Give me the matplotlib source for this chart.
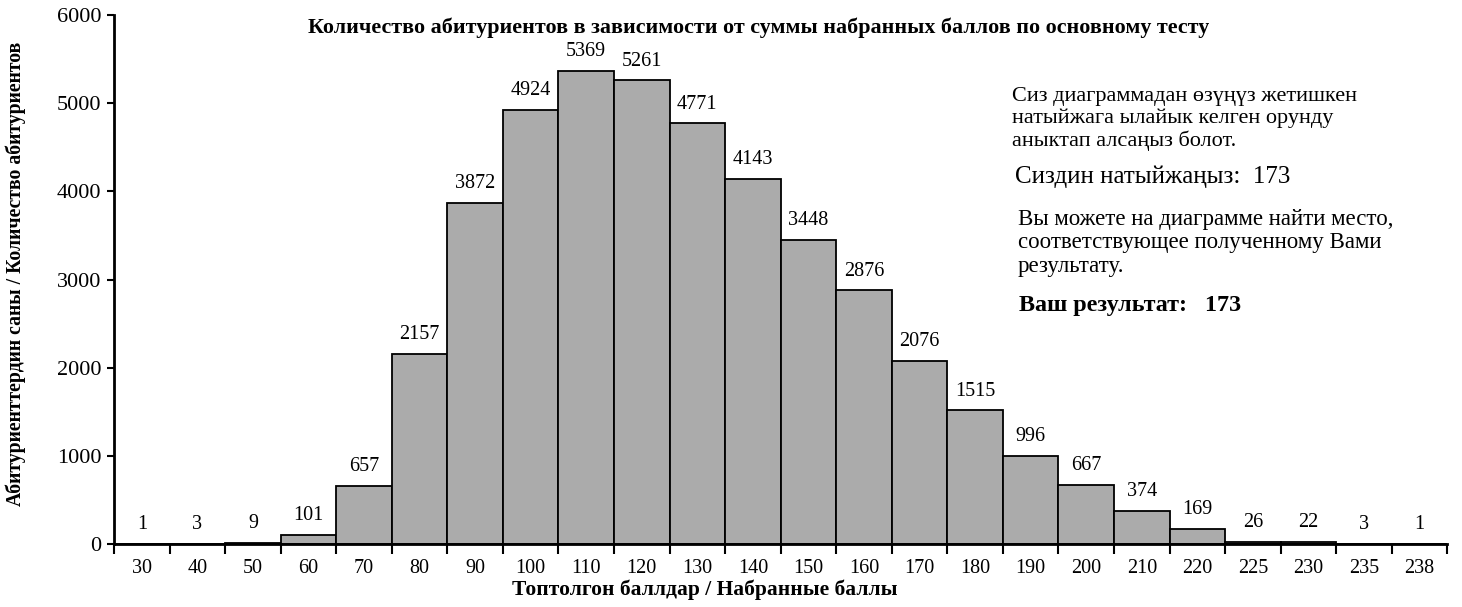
"""
Applicants by total score on the main test (bar chart recreation).
"""

import matplotlib
matplotlib.use("Agg")
import matplotlib.pyplot as plt
import numpy as np

score_labels = ["30", "40", "50", "60", "70", "80", "90", "100", "110", "120",
                "130", "140", "150", "160", "170", "180", "190", "200", "210",
                "220", "225", "230", "235", "238"]
applicants = [1, 3, 9, 101, 657, 2157, 3872, 4924, 5369, 5261, 4771, 4143,
              3448, 2876, 2076, 1515, 996, 667, 374, 169, 26, 22, 3, 1]
your_score = 173

plt.rcParams["font.family"] = ["Liberation Serif", "DejaVu Serif"]

fig = plt.figure(figsize=(14.62, 6.07), dpi=100)
ax = fig.add_axes([0.078, 0.104, 0.912, 0.871])

pos = np.arange(len(applicants))
bars = ax.bar(pos, applicants, width=1.0, align="edge",
              color="#ababab", edgecolor="black", linewidth=1.3)

for rect, val in zip(bars, applicants):
    ax.annotate(str(val), (rect.get_x() + rect.get_width() / 2, rect.get_height()),
                xytext=(0, 7), textcoords="offset points",
                ha="center", va="bottom", fontsize=14.5)

ax.set_xlim(0, len(applicants))
ax.set_ylim(0, 6000)

# tick marks on bar edges, labels under bar centres
ax.set_xticks(np.arange(len(applicants) + 1))
ax.set_xticklabels([])
ax.set_xticks(pos + 0.5, minor=True)
ax.set_xticklabels(score_labels, minor=True, fontsize=14.5)
ax.tick_params(axis="x", which="major", length=7, width=1.5, direction="out")
ax.tick_params(axis="x", which="minor", length=0, pad=11)

ax.set_yticks(np.arange(0, 6001, 1000))
ax.tick_params(axis="y", length=5, width=1.5, labelsize=16, pad=4)

for side in ("top", "right"):
    ax.spines[side].set_visible(False)
for side in ("left", "bottom"):
    ax.spines[side].set_linewidth(2)

ax.set_xlabel("Топтолгон баллдар / Набранные баллы", fontsize=15.5,
              fontweight="bold")
ax.xaxis.set_label_coords(0.443, -0.068)
ax.set_ylabel("Абитуриенттердин саны / Количество абитуриентов", fontsize=14.2,
              fontweight="bold")
ax.yaxis.set_label_coords(-0.066, 0.51)

fig.text(0.519, 0.955, "Количество абитуриентов в зависимости от суммы набранных "
         "баллов по основному тесту", ha="center", va="center",
         fontsize=15.8, fontweight="bold")

fig.text(0.692, 0.804, "Сиз диаграммадан өзүңүз жетишкен\n"
         "натыйжага ылайык келген орунду\nаныктап алсаңыз болот.",
         ha="left", va="center", fontsize=16, linespacing=1.15)
fig.text(0.694, 0.708, f"Сиздин натыйжаңыз:  {your_score}",
         ha="left", va="center", fontsize=18)
fig.text(0.696, 0.600, "Вы можете на диаграмме найти место,\n"
         "соответствующее полученному Вами\nрезультату.",
         ha="left", va="center", fontsize=16.5, linespacing=1.15)
fig.text(0.697, 0.497, f"Ваш результат:   {your_score}",
         ha="left", va="center", fontsize=17.4, fontweight="bold")

fig.savefig("out.png", dpi=100)
